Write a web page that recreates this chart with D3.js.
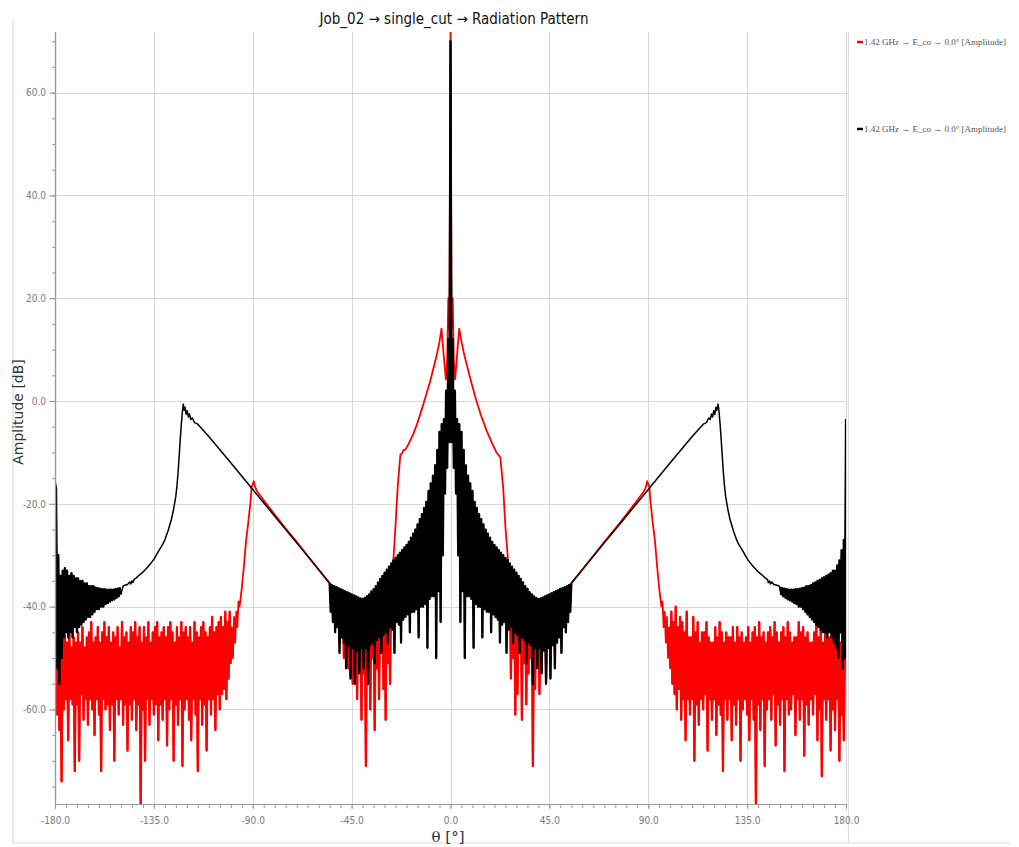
<!DOCTYPE html>
<html><head><meta charset="utf-8">
<script src="https://cdn.jsdelivr.net/npm/d3@7"></script>
<style>body{margin:0;background:#fff;} svg{display:block}</style>
</head><body><svg id="c" width="1019" height="847"></svg>
<script>
// ---------------- DATA ----------------
const chartTitle = "Job_02 → single_cut → Radiation Pattern";
const xLabel = "θ [°]";
const yLabel = "Amplitude [dB]";
const xTicks = [-180, -135, -90, -45, 0, 45, 90, 135, 180];
const yTicks = [-60, -40, -20, 0, 20, 40, 60];
const seriesNames = ["1.42 GHz → E_co → 0.0° [Amplitude]", "1.42 GHz → E_co → 0.0° [Amplitude]"];
const seriesColors = ["#ff0000", "#000000"];
const sampleStep = 0.5; // angular sampling of the noisy stretches (deg)

// red series: noisy floor -180..-100 (start angle, values every 0.5 deg)
const redNoiseLeftStart = -180;
const redNoiseLeft = [
 -27,-28,-61,-40,-64,-47,-74,-46,-60,-45,
 -58,-47,-66,-44,-58,-48,-59,-46,-72,-47,
 -59,-45,-70,-47,-57,-44,-62,-48,-58,-46,
 -63,-45,-58,-43,-60,-47,-65,-46,-58,-44,
 -61,-47,-72,-45,-58,-43,-60,-46,-59,-44,
 -64,-47,-59,-45,-70,-46,-58,-44,-61,-48,
 -58,-43,-63,-46,-59,-45,-68,-47,-59,-44,
 -62,-45,-58,-43,-64,-46,-59,-44,-79,-47,
 -60,-44,-70,-46,-58,-43,-63,-47,-58,-45,
 -61,-44,-59,-43,-66,-46,-59,-45,-62,-44,
 -58,-46,-67,-44,-60,-43,-58,-45,-70,-47,
 -59,-44,-63,-46,-58,-43,-71,-45,-60,-44,
 -58,-46,-62,-44,-66,-47,-58,-43,-61,-45,
 -72,-46,-58,-44,-63,-43,-59,-45,-68,-46,
 -58,-44,-61,-42,-58,-45,-64,-44,-57,-43,
 -60,-42,-57,-44,-56,-41,-58,-43,-54,-41,
 -51];
// red rise to the -90 deg lobe and the descending flank
const redRiseLeft = [[-99.5,-44],[-99,-50],[-98.5,-42],[-98,-47],[-97.5,-41],[-97,-44],[-96.5,-39],[-96,-40],
 [-95,-36.5],[-94,-32],[-93.5,-29.5],[-93,-27],[-92,-23.5],[-91,-19.5],[-90.5,-16.7],[-89.5,-15.6],[-89,-16.6],
 [-88,-17.6],[-85,-19.3],[-80,-22.1],[-75,-24.8],[-70,-27.4],[-65,-30.1],[-60,-32.8],[-55,-35.4],[-52.5,-36.6]];
const redMidLeftStart = -52;
const redMidLeft = [
 -37,-44,-38,-47,-37.5,-45,-39,-50,-38,-46,
 -40,-52,-38.5,-48,-41,-55,-39,-47,-40,-58,
 -39,-50,-41,-62,-39,-53,-40,-71,-38,-55,
 -39,-60,-37,-50,-38,-64,-36.5,-52,-37,-58,
 -35,-49,-36,-56,-34,-62,-34.5,-51,-33,-55,
 -33,-40];
const redMainLobe = [[-26.1,-31.7],[-25,-24],[-24,-16.5],[-22.8,-10.4],[-22,-10.2],[-21.5,-9.6],[-20.5,-9.4],
 [-19,-8.3],[-17,-6.5],[-15,-4.2],[-12.4,-0.7],[-11,1.3],[-9.4,3.6],[-8,6],[-6.4,8.7],[-5,11.5],[-4.1,14.1],
 [-3.5,11],[-2.8,7.5],[-2.1,4.2],[-1.5,8],[-1,20],[-0.5,14],[0,72],[0.5,14],[1,20],[1.5,8],[2.1,4.2],[2.8,7.8],
 [3.4,11.2],[4,14.1],[4.8,12],[6,9.5],[7.3,7.2],[9.5,3.6],[11.8,0],[14,-2.9],[16.4,-5.7],[18.5,-7.8],
 [20.9,-10],[22,-10.6],[22.7,-11],[24,-17],[25,-24.5],[26.3,-31.7]];
const redMidRightStart = 26.5;
const redMidRight = [
 -40,-33,-54,-33.5,-50,-34,-61,-35,-57,-36,
 -48,-36.5,-62,-37,-51,-38,-59,-36.5,-53,-39,
 -50,-38,-71,-40,-56,-39,-50,-41,-57,-39,
 -52,-40,-47,-38.5,-54,-39,-46,-38,-49,-37.5,
 -45,-38,-47,-37.5,-44,-37,-45,-36.5,-43,-36.8,
 -40,-36.4];
const redRiseRight = [[52.5,-36.6],[55,-35.4],[60,-32.8],[65,-30.1],[70,-27.4],[75,-24.8],[80,-22.1],[85,-19.3],
 [88,-17.6],[89,-16.6],[89.5,-15.6],[90.5,-16.7],[91,-19.5],[92,-23.5],[93,-27],[93.5,-29.5],[94,-32],[95,-36.5],
 [96,-40],[96.5,-39],[97,-44],[97.5,-41],[98,-47],[98.5,-42],[99,-50],[99.5,-44]];
const redNoiseRightStart = 100;
const redNoiseRight = [
 -52,-41,-55,-43,-57,-40,-60,-44,-56,-42,
 -62,-43,-58,-45,-66,-41,-58,-46,-61,-46,
 -58,-42,-70,-45,-59,-43,-63,-47,-58,-45,
 -60,-45,-57,-43,-68,-46,-58,-47,-62,-47,
 -58,-44,-65,-46,-59,-43,-61,-45,-72,-47,
 -58,-45,-62,-46,-58,-46,-66,-44,-59,-47,
 -63,-44,-58,-46,-70,-45,-60,-47,-58,-46,
 -61,-44,-66,-47,-58,-45,-62,-44,-79,-46,
 -59,-43,-64,-46,-58,-45,-71,-47,-60,-45,
 -58,-44,-62,-46,-57,-43,-67,-45,-59,-47,
 -63,-45,-58,-44,-72,-46,-58,-43,-61,-45,
 -60,-47,-57,-46,-65,-46,-58,-43,-62,-45,
 -58,-44,-69,-46,-59,-45,-63,-47,-58,-47,
 -61,-45,-57,-43,-66,-46,-60,-44,-73,-47,
 -58,-45,-62,-46,-58,-46,-68,-45,-60,-43,
 -64,-46,-58,-44,-70,-47,-61,-45,-66,-48,
 -45];

// black series
const blackNoiseLeftStart = -180;
const blackNoiseLeft = [
 -16,-17,-52,-30,-55,-34,-50,-33,-46,-32.5,
 -45,-33,-46,-34,-45,-33.5,-46,-34,-44,-34.5,
 -45,-34.5,-44,-35,-43.5,-35,-43,-35.5,-42.5,-35.5,
 -42,-36,-42,-36,-41.5,-36,-41,-36.3,-40.5,-36.4,
 -40.5,-36.5,-40,-36.6,-40,-36.6,-39.5,-36.7,-39.3,-36.7,
 -39,-36.7,-38.8,-36.7,-38.6,-36.6,-38.3,-36.5,-38,-36.4,
 -37.6];
const blackLeftFlank = [[-149,-36],[-148,-35.8],[-147,-35.7],[-146,-35.2],[-145.5,-35.6],[-145,-35],[-144.5,-35.3],
 [-144,-34.7],[-143,-34.4],[-142,-34],[-140,-33.3],[-138,-32.4],[-136.8,-31.8],[-135,-30.8],[-133,-29.3],
 [-131,-27.9],[-130,-27],[-128.5,-25.2],[-127,-23],[-126,-21],[-125,-18.5],[-124.5,-16.5],[-124,-14],
 [-123.5,-10.8],[-123,-7.5],[-122.5,-4.5],[-122,-2],[-121.6,-0.6],[-121.2,-1.8],[-120.8,-1.2],[-120.3,-2.6],
 [-119.8,-1.9],[-119.3,-3.1],[-118.8,-2.5],[-118.2,-3.6],[-117.5,-3.3],[-116.5,-4.2],[-115,-4.5],[-110,-6.9],
 [-100,-12],[-90,-17.2],[-80,-22.4],[-70,-27.6],[-60,-32.8],[-55.5,-35.2]];
const blackCenterStart = -55;
const blackCenter = [
 -35.5,-41,-35.8,-43,-36,-45,-36.2,-44,-36.4,-49,
 -36.6,-46,-36.8,-47,-37,-52,-37.2,-47.5,-37.4,-54,
 -37.6,-48,-37.8,-55,-38,-48.5,-38.2,-53,-38.4,-48,
 -38.5,-52,-38.3,-48,-38,-55,-37.6,-47.5,-37.2,-47,
 -36.6,-51,-36,-46.5,-35.3,-46,-34.6,-49,-34,-45.5,
 -33.4,-45,-32.8,-47,-32.2,-44,-31.6,-44.5,-31,-49,
 -30.5,-43,-30,-43.5,-29.5,-47,-29,-42.5,-28.5,-42,
 -28,-41.5,-27.4,-45,-26.6,-41,-25.8,-41,-25,-40.5,
 -24,-46,-23,-40,-22,-40,-20.8,-39.5,-19.6,-48,
 -17.5,-38.5,-16,-38,-14.5,-38,-12.5,-50,-9.5,-37,
 -6,-43,-4.5,-30,-3.5,-18,2,-13,12,-8,
 70,
 -8,12,-13,2,-18,-3.5,-30,-4.5,-43,-6,
 -37,-9.5,-50,-12.5,-38,-14.5,-38,-16,-38.5,-17.5,
 -48,-19.6,-39.5,-20.8,-40,-22,-40,-23,-46,-24,
 -40.5,-25,-41,-25.8,-41,-26.6,-45,-27.4,-41.5,-28,
 -42,-28.5,-42.5,-29,-47,-29.5,-43.5,-30,-43,-30.5,
 -49,-31,-44.5,-31.6,-44,-32.2,-47,-32.8,-45,-33.4,
 -45.5,-34,-49,-34.6,-46,-35.3,-46.5,-36,-51,-36.6,
 -47,-37.2,-47.5,-37.6,-55,-38,-48,-38.3,-52,-38.5,
 -48,-38.4,-53,-38.2,-48.5,-38,-55,-37.8,-48,-37.6,
 -54,-37.4,-47.5,-37.2,-52,-37,-47,-36.8,-46,-36.6,
 -49,-36.4,-44,-36.2,-45,-36,-43,-35.8,-41,-35.5];
const blackRightFlank = [[55.5,-35.2],[60,-32.8],[70,-27.6],[80,-22.4],[90,-17.2],[100,-12],[110,-6.9],[115,-4.5],
 [116.5,-4.2],[117.5,-3.3],[118.2,-3.6],[118.8,-2.5],[119.3,-3.1],[119.8,-1.9],[120.3,-2.6],[120.8,-1.2],
 [121.2,-1.8],[121.8,-0.6],[122.2,-2],[122.7,-4.5],[123.2,-7.5],[123.7,-10.8],[124.2,-14],[124.7,-16.5],
 [125.2,-18.5],[126.2,-21],[127.2,-23],[128.7,-25.2],[130.2,-27],[131.2,-27.9],[133.2,-29.3],[135.2,-30.8],
 [137,-31.8],[138.2,-32.4],[140.2,-33.3],[142.2,-34],[143.2,-34.4],[144.2,-34.7],[144.7,-35.3],[145.2,-35],
 [145.7,-35.6],[146.2,-35.2],[147.2,-35.7],[148.2,-35.8],[149.5,-36]];
const blackNoiseRightStart = 150;
const blackNoiseRight = [
 -36.2,-37.6,-36.4,-38,-36.5,-38.3,-36.6,-38.6,-36.7,-38.8,
 -36.7,-39,-36.7,-39.3,-36.6,-39.5,-36.6,-40,-36.5,-40,
 -36.4,-40.5,-36.3,-41,-36,-41.5,-36,-42,-35.8,-42.5,
 -35.5,-43,-35.3,-43.5,-35,-44,-34.8,-44.5,-34.5,-45,
 -34.3,-45,-34,-46,-33.8,-45,-33.5,-46,-33,-47,
 -33,-48,-32,-50,-31,-45,-29,-52,-27,-50,
 -3.5];

// ---------------- BUILD ----------------
const sampled = (start, vals) => vals.map((v, i) => [start + i * sampleStep, v]);
const redNoisy = [
  sampled(redNoiseLeftStart, redNoiseLeft), sampled(redMidLeftStart, redMidLeft),
  sampled(redMidRightStart, redMidRight), sampled(redNoiseRightStart, redNoiseRight)];
const blackNoisy = [
  sampled(blackNoiseLeftStart, blackNoiseLeft), sampled(blackCenterStart, blackCenter),
  sampled(blackNoiseRightStart, blackNoiseRight)];
const redSeries = [].concat(redNoisy[0], redRiseLeft, redNoisy[1], redMainLobe, redNoisy[2], redRiseRight, redNoisy[3]);
const blackSeries = [].concat(blackNoisy[0], blackLeftFlank, blackNoisy[1], blackRightFlank, blackNoisy[2]);

const svg = d3.select("#c");
const W = 1019, H = 847;
const m = {left: 55, right: 846, top: 32, bottom: 804};
const x = d3.scaleLinear().domain([-180, 180]).range([m.left, m.right]);
const y = d3.scaleLinear().domain([-78.4, 71.8]).range([m.bottom, m.top]);
const tickFont = "'DejaVu Sans Condensed','Liberation Sans Narrow','Roboto Condensed','DejaVu Sans',sans-serif";
const fmt = d => d.toFixed(1);

svg.append("rect").attr("width", W).attr("height", H).attr("fill", "#fff");

// frame lines
const frame = svg.append("g").attr("stroke", "#dcdcdc").attr("stroke-width", 1.2);
frame.append("line").attr("x1", 13).attr("x2", 13).attr("y1", 20).attr("y2", 843);
frame.append("line").attr("x1", 13).attr("x2", 1010).attr("y1", 843).attr("y2", 843);
frame.append("line").attr("x1", 848.5).attr("x2", 848.5).attr("y1", 32).attr("y2", 843);

// grid
const grid = svg.append("g").attr("stroke", "#d8d8d8").attr("stroke-width", 1);
grid.selectAll("line.h").data(yTicks).join("line")
  .attr("x1", m.left).attr("x2", m.right)
  .attr("y1", d => Math.round(y(d)) + 0.5).attr("y2", d => Math.round(y(d)) + 0.5);
grid.selectAll("line.v").data(xTicks).join("line")
  .attr("y1", m.top).attr("y2", m.bottom)
  .attr("x1", d => Math.round(x(d)) + 0.5).attr("x2", d => Math.round(x(d)) + 0.5);

// clip
svg.append("clipPath").attr("id", "plotclip").append("rect")
  .attr("x", m.left).attr("y", m.top).attr("width", m.right - m.left).attr("height", m.bottom - m.top);

const line = d3.line().x(d => x(d[0])).y(d => y(d[1]));
const plot = svg.append("g").attr("clip-path", "url(#plotclip)");
// red trace (noisy stretches drawn heavier, as the dense sampling renders them)
plot.append("path").datum(redSeries).attr("d", line)
  .attr("fill", "none").attr("stroke", seriesColors[0]).attr("stroke-width", 1.8).attr("stroke-linejoin", "round");
plot.selectAll("path.rn").data(redNoisy).join("path").attr("class", "rn").attr("d", line)
  .attr("fill", "none").attr("stroke", seriesColors[0]).attr("stroke-width", 2.3).attr("stroke-linejoin", "round");
// black trace
plot.append("path").datum(blackSeries).attr("d", line)
  .attr("fill", "none").attr("stroke", seriesColors[1]).attr("stroke-width", 1.5).attr("stroke-linejoin", "round");
plot.selectAll("path.bn").data(blackNoisy).join("path").attr("class", "bn").attr("d", line)
  .attr("fill", "none").attr("stroke", seriesColors[1]).attr("stroke-width", 2.3).attr("stroke-linejoin", "round");

// axes
const axisColor = "#9a9a9a";
function styleAxis(g) {
  g.select(".domain").attr("stroke", axisColor).attr("stroke-width", 1.2);
  g.selectAll(".tick line").attr("stroke", axisColor);
  g.selectAll(".tick text").attr("fill", "#7a7a7a").style("font-family", tickFont).style("font-size", "10px");
}
const yMinor = d3.range(-75, 71, 5);
const xMinor = d3.range(-180, 181, 5);
svg.append("g").attr("transform", `translate(${m.left},0)`)
  .call(d3.axisLeft(y).tickValues(yMinor).tickSize(3).tickFormat("").tickSizeOuter(0)).call(styleAxis);
svg.append("g").attr("transform", `translate(${m.left},0)`)
  .call(d3.axisLeft(y).tickValues(yTicks).tickSize(6).tickPadding(3).tickFormat(fmt).tickSizeOuter(0)).call(styleAxis);
svg.append("g").attr("transform", `translate(0,${m.bottom})`)
  .call(d3.axisBottom(x).tickValues(xMinor).tickSize(4).tickFormat("").tickSizeOuter(0)).call(styleAxis);
svg.append("g").attr("transform", `translate(0,${m.bottom})`)
  .call(d3.axisBottom(x).tickValues(xTicks).tickSize(5).tickPadding(8).tickFormat(fmt).tickSizeOuter(0)).call(styleAxis);

// titles
svg.append("text").attr("x", 454).attr("y", 24).attr("text-anchor", "middle")
  .style("font-family", tickFont).style("font-size", "15px").attr("fill", "#111").text(chartTitle);
svg.append("text").attr("x", 448).attr("y", 842).attr("text-anchor", "middle")
  .style("font-family", "'DejaVu Serif','Liberation Serif',serif").style("font-size", "15px").attr("fill", "#333").text(xLabel);
svg.append("text").attr("transform", "translate(23,412) rotate(-90)").attr("text-anchor", "middle")
  .style("font-family", "'DejaVu Sans','Liberation Sans',sans-serif").style("font-size", "14px").attr("fill", "#333").text(yLabel);

// legend
const legendY = [42, 129];
const lg = svg.append("g");
seriesNames.forEach((name, i) => {
  lg.append("line").attr("x1", 857).attr("x2", 863).attr("y1", legendY[i]).attr("y2", legendY[i])
    .attr("stroke", seriesColors[i]).attr("stroke-width", 2.5);
  lg.append("text").attr("x", 864).attr("y", legendY[i] + 3)
    .style("font-family", "'Liberation Serif','DejaVu Serif',serif").style("font-size", "9px")
    .attr("fill", "#555").text(name);
});
</script></body></html>
